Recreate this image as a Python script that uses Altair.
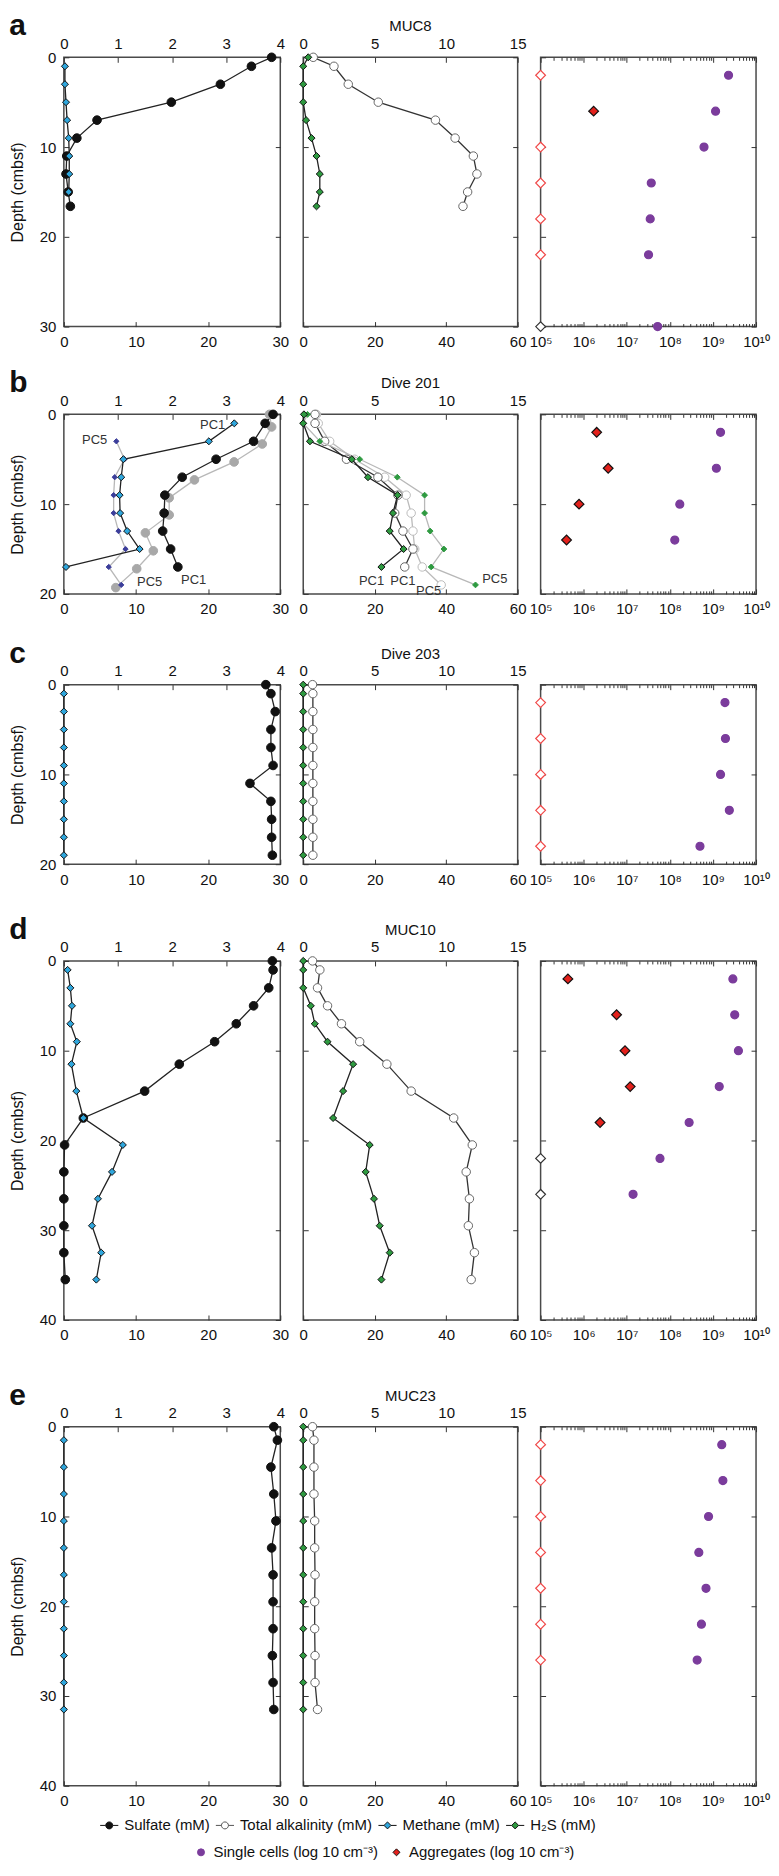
import altair as alt
import pandas as pd

FONT = "Liberation Sans"

# ---------------- Row a : MUC8 ----------------
a_sulf_depth = [0, 1, 3, 5, 7, 9, 11, 13, 15, 16.6]
a_sulf = [28.8, 26.0, 21.7, 14.9, 4.6, 1.8, 0.4, 0.3, 0.6, 0.9]
a_meth_depth = [1, 3, 5, 7, 9, 11, 13, 15]
a_meth = [0.02, 0.02, 0.04, 0.06, 0.09, 0.10, 0.10, 0.09]
a_h2s_depth = [0, 1, 3, 5, 7, 9, 11, 13, 15, 16.6]
a_h2s = [0.35, 0.0, 0.0, 0.0, 0.2, 0.58, 0.93, 1.16, 1.16, 0.93]
a_alk_depth = [0, 1, 3, 5, 7, 9, 11, 13, 15, 16.6]
a_alk = [2.8, 8.6, 12.6, 21.0, 37.0, 42.5, 47.6, 48.6, 46.0, 44.7]
a_cell_depth = [2, 6, 10, 14, 18, 22, 30]
a_cells = [2.3e9, 1.15e9, 6.2e8, 3.7e7, 3.5e7, 3.2e7, 5.2e7]
a_agg_depth = [6]
a_agg = [1.7e6]
a_nd_depth = [2, 10, 14, 18, 22]
a_nd = [1e5, 1e5, 1e5, 1e5, 1e5]
a_na_depth = [30]
a_na = [1e5]

# ---------------- Row b : Dive 201 ----------------
b_sulf1_depth = [0, 1, 3, 5, 7, 9, 11, 13, 15, 17]
b_sulf1 = [29.0, 27.9, 26.3, 21.1, 16.4, 14.0, 13.9, 13.7, 14.8, 15.8]
b_sulf5_depth = [0, 1.4, 3.3, 5.3, 7.3, 9.3, 11.2, 13.2, 15.2, 17.2, 19.3]
b_sulf5 = [28.5, 28.8, 27.5, 23.6, 18.1, 14.6, 14.6, 11.3, 12.4, 10.1, 7.2]
b_meth1_depth = [1, 3, 5, 7, 9, 11, 13, 15, 17]
b_meth1 = [3.15, 2.68, 1.10, 1.06, 1.03, 1.04, 1.17, 1.40, 0.04]
b_meth5_depth = [3, 5, 7, 9, 11, 13, 15, 17, 19]
b_meth5 = [0.97, 1.12, 0.94, 0.92, 0.92, 1.01, 1.14, 0.83, 1.06]
b_h2s1_depth = [0, 1, 3, 5, 7, 9, 11, 13, 15, 17]
b_h2s1 = [0.05, 0.0, 0.47, 3.4, 4.53, 6.6, 6.28, 6.05, 7.02, 5.47]
b_h2s5_depth = [0, 1, 3, 5, 7, 9, 11, 13, 15, 17, 19]
b_h2s5 = [0.3, 0.0, 1.16, 3.95, 6.58, 8.49, 8.49, 8.88, 9.84, 8.95, 12.05]
b_alk1_depth = [0, 1, 3, 5, 7, 9, 11, 13, 15, 17]
b_alk1 = [3.3, 3.3, 6.0, 12.1, 20.9, 26.5, 25.6, 27.9, 30.7, 28.4]
b_alk5_depth = [0, 1, 3, 5, 7, 9, 11, 13, 15, 17, 19]
b_alk5 = [3.7, 4.2, 7.4, 14.4, 22.8, 28.8, 30.2, 30.7, 31.2, 33.3, 38.6]
b_cell_depth = [2, 6, 10, 14]
b_cells = [1.5e9, 1.2e9, 1.7e8, 1.3e8]
b_agg_depth = [2, 6, 10, 14]
b_agg = [2.0e6, 3.7e6, 7.8e5, 4.0e5]
b_lab_meth = ["PC1", "PC5"]
b_lab_meth_x = [2.75, 0.57]
b_lab_meth_y = [1.2, 2.85]
b_lab_sulf = ["PC5", "PC1"]
b_lab_sulf_x = [11.9, 18.0]
b_lab_sulf_y = [18.7, 18.5]
b_lab_alk = ["PC1", "PC1", "PC5", "PC5"]
b_lab_alk_x = [19.1, 27.9, 35.1, 53.6]
b_lab_alk_y = [18.6, 18.6, 19.7, 18.3]

# ---------------- Row c : Dive 203 ----------------
c_sulf_depth = [0, 1, 3, 5, 7, 9, 11, 13, 15, 17, 19]
c_sulf = [28.0, 28.7, 29.3, 28.7, 28.7, 29.0, 25.8, 28.7, 28.8, 28.8, 28.9]
c_meth_depth = [1, 3, 5, 7, 9, 11, 13, 15, 17, 19]
c_meth = [0, 0, 0, 0, 0, 0, 0, 0, 0, 0]
c_h2s_depth = [0, 1, 3, 5, 7, 9, 11, 13, 15, 17, 19]
c_h2s = [0, 0, 0, 0, 0, 0, 0, 0, 0, 0, 0]
c_alk_depth = [0, 1, 3, 5, 7, 9, 11, 13, 15, 17, 19]
c_alk = [2.6, 2.7, 2.7, 2.7, 2.7, 2.7, 2.7, 2.7, 2.7, 2.7, 2.7]
c_cell_depth = [2, 6, 10, 14, 18]
c_cells = [1.9e9, 1.95e9, 1.5e9, 2.4e9, 5.0e8]
c_nd_depth = [2, 6, 10, 14, 18]
c_nd = [1e5, 1e5, 1e5, 1e5, 1e5]

# ---------------- Row d : MUC10 ----------------
d_sulf_depth = [0, 1, 3, 5, 7, 9, 11.5, 14.5, 17.5, 20.5, 23.5, 26.5, 29.5, 32.5, 35.5]
d_sulf = [28.9, 29.0, 28.4, 26.3, 23.9, 20.9, 16.0, 11.2, 2.7, 0.1, 0.0, 0.0, 0.0, 0.0, 0.2]
d_meth_depth = [1, 3, 5, 7, 9, 11.5, 14.5, 17.5, 20.5, 23.5, 26.5, 29.5, 32.5, 35.5]
d_meth = [0.07, 0.12, 0.15, 0.12, 0.24, 0.14, 0.23, 0.36, 1.09, 0.89, 0.63, 0.52, 0.69, 0.60]
d_h2s_depth = [0, 1, 3, 5, 7, 9, 11.5, 14.5, 17.5, 20.5, 23.5, 26.5, 29.5, 32.5, 35.5]
d_h2s = [0.0, 0.0, 0.0, 0.53, 0.81, 1.70, 3.49, 2.79, 2.09, 4.65, 4.37, 4.95, 5.35, 6.05, 5.47]
d_alk_depth = [0, 1, 3, 5, 7, 9, 11.5, 14.5, 17.5, 20.5, 23.5, 26.5, 29.5, 32.5, 35.5]
d_alk = [2.6, 4.65, 4.0, 6.8, 10.7, 15.8, 23.4, 30.2, 42.1, 47.3, 45.6, 46.5, 46.2, 47.9, 47.0]
d_cell_depth = [2, 6, 10, 14, 18, 22, 26]
d_cells = [2.9e9, 3.2e9, 3.9e9, 1.4e9, 2.8e8, 5.9e7, 1.4e7]
d_agg_depth = [2, 6, 10, 14, 18]
d_agg = [4.3e5, 5.8e6, 9.1e6, 1.2e7, 2.4e6]
d_na_depth = [22, 26]
d_na = [1e5, 1e5]

# ---------------- Row e : MUC23 ----------------
e_sulf_depth = [0, 1.5, 4.5, 7.5, 10.5, 13.5, 16.5, 19.5, 22.5, 25.5, 28.5, 31.5]
e_sulf = [29.1, 29.6, 28.7, 29.1, 29.4, 28.8, 29.0, 29.0, 29.0, 28.9, 29.0, 29.1]
e_meth_depth = [1.5, 4.5, 7.5, 10.5, 13.5, 16.5, 19.5, 22.5, 25.5, 28.5, 31.5]
e_meth = [0, 0, 0, 0, 0, 0, 0, 0, 0, 0, 0]
e_h2s_depth = [0, 1.5, 4.5, 7.5, 10.5, 13.5, 16.5, 19.5, 22.5, 25.5, 28.5, 31.5]
e_h2s = [0, 0, 0, 0, 0, 0, 0, 0, 0, 0, 0, 0]
e_alk_depth = [0, 1.5, 4.5, 7.5, 10.5, 13.5, 16.5, 19.5, 22.5, 25.5, 28.5, 31.5]
e_alk = [2.6, 3.0, 3.0, 3.0, 3.2, 3.2, 3.3, 3.2, 3.2, 3.3, 3.3, 4.0]
e_cell_depth = [2, 6, 10, 14, 18, 22, 26]
e_cells = [1.6e9, 1.7e9, 7.9e8, 4.7e8, 6.9e8, 5.4e8, 4.3e8]
e_nd_depth = [2, 6, 10, 14, 18, 22, 26]
e_nd = [1e5, 1e5, 1e5, 1e5, 1e5, 1e5, 1e5]

# ---------------- legends ----------------
leg1_items = ["Sulfate (mM)", "Total alkalinity (mM)", "Methane (mM)", "H₂S (mM)"]
leg2_items = ["Single cells (log 10 cm⁻³)", "Aggregates (log 10 cm⁻³)"]

# ---------------- styles ----------------
STY = {
    "sulf":  dict(shape="circle", fill="#111111", stroke="#111111", line="#222222", size=75),
    "sulf5": dict(shape="circle", fill="#a8a8a8", stroke="#a8a8a8", line="#b8b8b8", size=75),
    "meth":  dict(shape="diamond", fill="#2fa6dc", stroke="#111111", line="#222222", size=50),
    "meth5": dict(shape="diamond", fill="#3b3d9a", stroke="#3b3d9a", line="#b8b8b8", size=28),
    "h2s":   dict(shape="diamond", fill="#2e9a40", stroke="#111111", line="#222222", size=50),
    "h2s5":  dict(shape="diamond", fill="#2e9a40", stroke="#2e9a40", line="#b8b8b8", size=34),
    "alk":   dict(shape="circle", fill="#ffffff", stroke="#666666", line="#333333", size=72),
    "alk5":  dict(shape="circle", fill="#ffffff", stroke="#bbbbbb", line="#bbbbbb", size=72),
    "cells": dict(shape="circle", fill="#7b3c9c", stroke="#7b3c9c", line="#000000", size=64),
    "agg":   dict(shape="diamond", fill="#e3211c", stroke="#111111", line="#000000", size=95),
    "nd":    dict(shape="diamond", fill="#ffffff", stroke="#f04848", line="#000000", size=95),
    "na":    dict(shape="diamond", fill="#ffffff", stroke="#333333", line="#000000", size=95),
}

LINE_CIRCLE = "M-2.6,0L-1,0M1,0L2.6,0M1,0A1,1,0,1,1,-1,0A1,1,0,1,1,1,0Z"
LINE_DIAMOND = "M-2.6,0L-1,0M1,0L2.6,0M0,-1L1,0L0,1L-1,0Z"
TICK = 5
MINOR = 3


def frame(groups):
    rows = []
    for key, depths, values in groups:
        for d, v in zip(depths, values):
            r = {"series": key, "depth": d, "value": v}
            r.update(STY[key])
            rows.append(r)
    return pd.DataFrame(rows)


def labels_df(texts, xs, ys):
    return pd.DataFrame({"label": texts, "value": xs, "depth": ys})


def yscale(ymax):
    return alt.Scale(domain=[0, ymax], reverse=True, nice=False, zero=False)


def yenc(ymax, orient, labels, title):
    ax = alt.Axis(orient=orient, values=list(range(0, ymax + 1, 10)), labels=labels,
                  title=title, titlePadding=14, ticks=True, tickSize=TICK, offset=-TICK)
    return alt.Y("depth:Q", scale=yscale(ymax), axis=ax)


def prof(df, domain, orient, vals, ymax, y_orient, y_labels, y_title, labels=None):
    xe = alt.X("value:Q", scale=alt.Scale(domain=domain, nice=False, zero=False),
               axis=alt.Axis(orient=orient, values=vals, title=None, ticks=True,
                             tickSize=TICK, offset=-TICK,
                             labelPadding=6 if orient == "top" else 8))
    ye = yenc(ymax, y_orient, y_labels, y_title)
    line = alt.Chart(df).mark_line(strokeWidth=1.3).encode(
        x=xe, y=ye, detail="series:N",
        stroke=alt.Stroke("line:N", scale=None), order=alt.Order("depth:Q"))
    pts = alt.Chart(df).mark_point(filled=True, strokeWidth=1, opacity=1).encode(
        x=xe, y=ye, detail="series:N",
        fill=alt.Fill("fill:N", scale=None), stroke=alt.Stroke("stroke:N", scale=None),
        shape=alt.Shape("shape:N", scale=None), size=alt.Size("size:Q", scale=None))
    layers = [line, pts]
    if labels is not None:
        layers.append(alt.Chart(labels).mark_text(fontSize=13, color="#333333", font=FONT).encode(
            x=xe, y=ye, text="label:N"))
    return alt.layer(*layers)


LOG_VALS = [1e5, 1e6, 1e7, 1e8, 1e9, 1e10]
LOG_MINOR = [m * 10 ** e for e in range(5, 10) for m in range(2, 10)]
LOG_EXPR = "'10' + ['⁵','⁶','⁷','⁸','⁹','¹⁰'][round(log(datum.value)/LN10) - 5]"


def log_scale():
    return alt.Scale(type="log", domain=[1e5, 1e10], nice=False)


def cells_panel(df, ymax):
    xe = alt.X("value:Q", scale=log_scale(),
               axis=alt.Axis(orient="bottom", values=LOG_VALS, title=None, labelExpr=LOG_EXPR,
                             ticks=True, tickSize=TICK, offset=-TICK))
    pts = alt.Chart(df).mark_point(filled=True, strokeWidth=1.2, opacity=1).encode(
        x=xe, y=yenc(ymax, "left", False, None),
        fill=alt.Fill("fill:N", scale=None), stroke=alt.Stroke("stroke:N", scale=None),
        shape=alt.Shape("shape:N", scale=None), size=alt.Size("size:Q", scale=None))

    def xaxis(orient, vals, size):
        return alt.X("value:Q", scale=log_scale(),
                     axis=alt.Axis(orient=orient, values=vals, labels=False, title=None,
                                   ticks=True, tickSize=size, offset=-size))
    y_plain = alt.Y("depth:Q", scale=yscale(ymax), axis=None)
    minor_b = alt.Chart(df).transform_filter("false").mark_point().encode(
        x=xaxis("bottom", LOG_MINOR, MINOR), y=yenc(ymax, "right", False, None))
    major_t = alt.Chart(df).transform_filter("false").mark_point().encode(
        x=xaxis("top", LOG_VALS, TICK), y=y_plain)
    minor_t = alt.Chart(df).transform_filter("false").mark_point().encode(
        x=xaxis("top", LOG_MINOR, MINOR), y=y_plain)
    return [pts, minor_b, major_t, minor_t]


def legend_layer(items, fills, strokes, shapes, lx, ly, sym, loff, cpad):
    leg = alt.Legend(orient="none", legendX=lx, legendY=ly, direction="horizontal", title=None,
                     labelFontSize=15, labelLimit=600, symbolSize=sym, symbolStrokeWidth=1,
                     labelOffset=loff, columnPadding=cpad, labelFont=FONT, labelColor="#111111")
    df = pd.DataFrame({"item": items})
    return alt.Chart(df).transform_filter("datum.item == '__none__'").mark_point(filled=True).encode(
        fill=alt.Fill("item:N", scale=alt.Scale(domain=items, range=fills), legend=leg),
        stroke=alt.Stroke("item:N", scale=alt.Scale(domain=items, range=strokes), legend=leg),
        shape=alt.Shape("item:N", scale=alt.Scale(domain=items, range=shapes), legend=leg))


W1, W2, W3 = 217, 215, 216
INDEP = dict(fill="independent", stroke="independent", shape="independent")


def make_row(letter, title, h, ymax, sulf_df, meth_df, alk_df, h2s_df, cell_df,
             lab_sulf=None, lab_meth=None, lab_alk=None, leg1=None, leg2=None):
    bottom1 = prof(sulf_df, [0, 30], "bottom", [0, 10, 20, 30], ymax, "left", True, "Depth (cmbsf)", lab_sulf)
    top1 = prof(meth_df, [0, 4], "top", [0, 1, 2, 3, 4], ymax, "right", False, None, lab_meth)
    l1 = [bottom1, top1]
    if leg1 is not None:
        l1.append(leg1)
    p1 = alt.layer(*l1).resolve_scale(x="independent").resolve_axis(y="independent").properties(
        width=W1, height=h,
        title=alt.TitleParams(letter, anchor="start", frame="bounds", fontSize=30, fontWeight="bold",
                              baseline="alphabetic", offset=-29, font=FONT, color="#111111"))
    bottom2 = prof(alk_df, [0, 60], "bottom", [0, 20, 40, 60], ymax, "left", False, None, lab_alk)
    top2 = prof(h2s_df, [0, 15], "top", [0, 5, 10, 15], ymax, "right", False, None)
    p2 = alt.layer(bottom2, top2).resolve_scale(x="independent").resolve_axis(y="independent").properties(
        width=W2, height=h,
        title=alt.TitleParams(title, anchor="middle", fontSize=15, fontWeight="normal",
                              baseline="alphabetic", offset=-10, font=FONT, color="#111111"))
    l3 = cells_panel(cell_df, ymax)
    if leg2 is not None:
        l3.append(leg2)
    p3 = alt.layer(*l3).resolve_axis(x="independent", y="independent").properties(width=W3, height=h)
    return alt.hconcat(p1, p2, p3, spacing=23, bounds="flush").resolve_scale(**INDEP)


row_a = make_row(
    "a", "MUC8", 270, 30,
    frame([("sulf", a_sulf_depth, a_sulf)]),
    frame([("meth", a_meth_depth, a_meth)]),
    frame([("alk", a_alk_depth, a_alk)]),
    frame([("h2s", a_h2s_depth, a_h2s)]),
    frame([("nd", a_nd_depth, a_nd), ("na", a_na_depth, a_na),
           ("cells", a_cell_depth, a_cells), ("agg", a_agg_depth, a_agg)]))

row_b = make_row(
    "b", "Dive 201", 180, 20,
    frame([("sulf5", b_sulf5_depth, b_sulf5), ("sulf", b_sulf1_depth, b_sulf1)]),
    frame([("meth5", b_meth5_depth, b_meth5), ("meth", b_meth1_depth, b_meth1)]),
    frame([("alk5", b_alk5_depth, b_alk5), ("alk", b_alk1_depth, b_alk1)]),
    frame([("h2s5", b_h2s5_depth, b_h2s5), ("h2s", b_h2s1_depth, b_h2s1)]),
    frame([("cells", b_cell_depth, b_cells), ("agg", b_agg_depth, b_agg)]),
    lab_sulf=labels_df(b_lab_sulf, b_lab_sulf_x, b_lab_sulf_y),
    lab_meth=labels_df(b_lab_meth, b_lab_meth_x, b_lab_meth_y),
    lab_alk=labels_df(b_lab_alk, b_lab_alk_x, b_lab_alk_y))

row_c = make_row(
    "c", "Dive 203", 180, 20,
    frame([("sulf", c_sulf_depth, c_sulf)]),
    frame([("meth", c_meth_depth, c_meth)]),
    frame([("alk", c_alk_depth, c_alk)]),
    frame([("h2s", c_h2s_depth, c_h2s)]),
    frame([("nd", c_nd_depth, c_nd), ("cells", c_cell_depth, c_cells)]))

row_d = make_row(
    "d", "MUC10", 360, 40,
    frame([("sulf", d_sulf_depth, d_sulf)]),
    frame([("meth", d_meth_depth, d_meth)]),
    frame([("alk", d_alk_depth, d_alk)]),
    frame([("h2s", d_h2s_depth, d_h2s)]),
    frame([("na", d_na_depth, d_na), ("cells", d_cell_depth, d_cells), ("agg", d_agg_depth, d_agg)]))

leg1 = legend_layer(leg1_items,
                    [STY["sulf"]["fill"], STY["alk"]["fill"], STY["meth"]["fill"], STY["h2s"]["fill"]],
                    ["#111111", "#555555", "#111111", "#111111"],
                    [LINE_CIRCLE, LINE_CIRCLE, LINE_DIAMOND, LINE_DIAMOND],
                    38, 392, 49, 7.5, 3)
leg2 = legend_layer(leg2_items,
                    [STY["cells"]["fill"], STY["agg"]["fill"]],
                    [STY["cells"]["stroke"], "#111111"],
                    ["circle", "diamond"],
                    -348, 419, 49, 5, 10)

row_e = make_row(
    "e", "MUC23", 360, 40,
    frame([("sulf", e_sulf_depth, e_sulf)]),
    frame([("meth", e_meth_depth, e_meth)]),
    frame([("alk", e_alk_depth, e_alk)]),
    frame([("h2s", e_h2s_depth, e_h2s)]),
    frame([("nd", e_nd_depth, e_nd), ("cells", e_cell_depth, e_cells)]),
    leg1=leg1, leg2=leg2)

# nested vertical stacks so that each gap between rows can differ, as in the figure
stack_de = alt.vconcat(row_d, row_e, spacing=36).resolve_scale(**INDEP)
stack_cde = alt.vconcat(row_c, stack_de, spacing=26).resolve_scale(**INDEP)
stack_bcde = alt.vconcat(row_b, stack_cde, spacing=20).resolve_scale(**INDEP)

chart = alt.vconcat(row_a, stack_bcde, spacing=17).resolve_scale(**INDEP).properties(
    padding={"left": 0, "top": 0, "right": 0, "bottom": 0}
).configure(font=FONT).configure_view(
    stroke="#4a4a4a", strokeWidth=1.5
).configure_axis(
    grid=False, domain=False, labelFontSize=15, labelColor="#111111",
    labelPadding=8, labelFlush=False, titleFontSize=16, titleFontWeight="normal",
    titleColor="#111111", labelFont=FONT, titleFont=FONT, tickColor="#333333", tickWidth=1
).configure_title(font=FONT, color="#111111")

chart.save("out.html", embed_options={"renderer": "svg", "actions": False})
